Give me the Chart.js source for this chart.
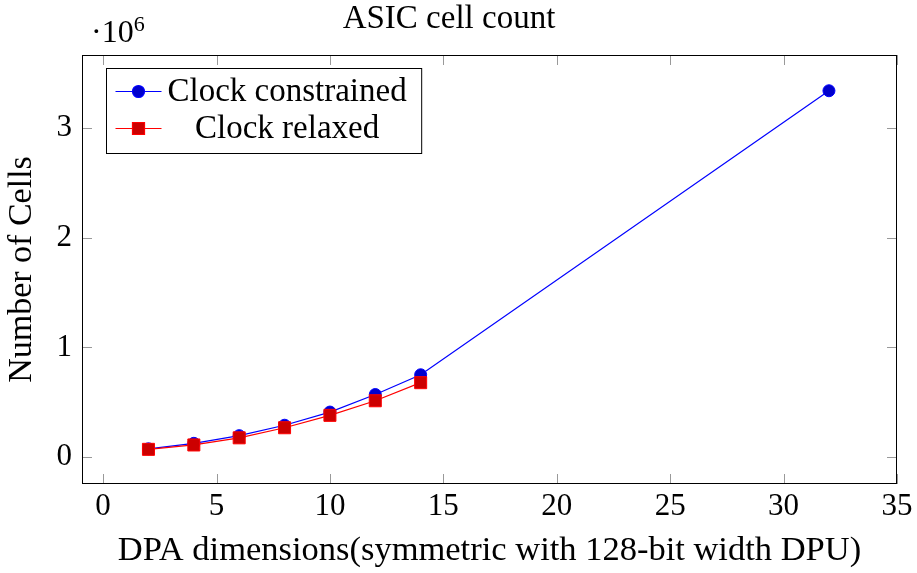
<!DOCTYPE html>
<html>
<head>
<meta charset="utf-8">
<script src="https://cdn.jsdelivr.net/npm/chart.js@4.4.0/dist/chart.umd.min.js"></script>
<style>
  html, body { margin: 0; padding: 0; background: #fff; }
  #wrap { width: 917px; height: 573px; }
</style>
</head>
<body>
<div id="wrap"><canvas id="cellChart"></canvas></div>
<script>
// values
const constrainedDims = [2, 4, 6, 8, 10, 12, 14, 32];
const constrainedCells = [75000, 125000, 195000, 290000, 410000, 570000, 750000, 3340000];
const relaxedDims = [2, 4, 6, 8, 10, 12, 14];
const relaxedCells = [70000, 110000, 175000, 267000, 380000, 513000, 678000];
const xTickValues = [0, 5, 10, 15, 20, 25, 30, 35];
const yTickValues = [0, 1000000, 2000000, 3000000];

const SERIF = "'Liberation Serif', 'DejaVu Serif', serif";
Chart.defaults.color = '#000';
Chart.defaults.font.family = SERIF;

// grey inner tick marks on all four sides + black frame
const framePlugin = {
  id: 'frame',
  beforeDatasetsDraw(chart) {
    const { ctx, chartArea: a, scales: { x, y } } = chart;
    ctx.save();
    ctx.strokeStyle = '#999';
    ctx.lineWidth = 1;
    ctx.beginPath();
    x.ticks.forEach(t => {
      const px = Math.round(x.getPixelForValue(t.value)) + 0.5;
      ctx.moveTo(px, a.bottom); ctx.lineTo(px, a.bottom - 10);
      ctx.moveTo(px, a.top); ctx.lineTo(px, a.top + 10);
    });
    y.ticks.forEach(t => {
      const py = Math.round(y.getPixelForValue(t.value)) + 0.5;
      ctx.moveTo(a.left, py); ctx.lineTo(a.left + 10, py);
      ctx.moveTo(a.right, py); ctx.lineTo(a.right - 10, py);
    });
    ctx.stroke();
    ctx.restore();
  },
  afterDraw(chart) {
    const { ctx, chartArea: a } = chart;
    ctx.save();
    ctx.strokeStyle = '#000';
    ctx.lineWidth = 1;
    ctx.strokeRect(Math.round(a.left) + 0.5, Math.round(a.top) + 0.5,
      Math.round(a.right - a.left) - 1, Math.round(a.bottom - a.top) - 1);

    // ·10^6 scale marker
    ctx.fillStyle = '#000';
    ctx.textBaseline = 'alphabetic';
    ctx.font = '32px ' + SERIF;
    ctx.fillText('\u00b710', a.left + 9, 42);
    const w = ctx.measureText('\u00b710').width;
    ctx.font = '22px ' + SERIF;
    ctx.fillText('6', a.left + 9 + w, 31);

    // legend box inside plot, top-left
    const sets = chart.data.datasets;
    ctx.font = '33px ' + SERIF;
    const maxW = Math.max(...sets.map(d => ctx.measureText(d.label).width));
    const bx = Math.round(a.left + 24) + 0.5, by = Math.round(a.top + 13) + 0.5;
    const textLeft = bx + 61;
    const bw = 61 + maxW + 15, bh = 85;
    ctx.fillStyle = '#fff';
    ctx.fillRect(bx, by, bw, bh);
    ctx.strokeStyle = '#000';
    ctx.strokeRect(bx, by, bw, bh);
    sets.forEach((d, i) => {
      const ry = by + 23 + i * 37;
      ctx.strokeStyle = d.borderColor;
      ctx.lineWidth = d.borderWidth;
      ctx.beginPath();
      ctx.moveTo(bx + 9, ry); ctx.lineTo(bx + 55, ry);
      ctx.stroke();
      ctx.fillStyle = d.pointBackgroundColor;
      ctx.strokeStyle = d.pointBorderColor;
      Chart.helpers.drawPoint(ctx, {
        pointStyle: d.pointStyle, radius: d.pointRadius, rotation: 0, borderWidth: 1
      }, bx + 32, ry);
      ctx.fillStyle = '#000';
      ctx.textAlign = 'center';
      ctx.textBaseline = 'middle';
      ctx.fillText(d.label, textLeft + maxW / 2, ry + 1);
    });
    ctx.restore();
  }
};

new Chart(document.getElementById('cellChart'), {
  type: 'line',
  data: {
    datasets: [
      {
        label: 'Clock constrained',
        data: constrainedDims.map((x, i) => ({ x, y: constrainedCells[i] })),
        borderColor: '#0000ff',
        borderWidth: 1.2,
        pointStyle: 'circle',
        pointRadius: 6,
        pointBackgroundColor: '#0000cc',
        pointBorderColor: '#0000ff',
        pointBorderWidth: 1,
        order: 1
      },
      {
        label: 'Clock relaxed',
        data: relaxedDims.map((x, i) => ({ x, y: relaxedCells[i] })),
        borderColor: '#ff0000',
        borderWidth: 1.2,
        pointStyle: 'rect',
        pointRadius: 8.5,
        pointBackgroundColor: '#cc0000',
        pointBorderColor: '#ff0000',
        pointBorderWidth: 1,
        order: 0
      }
    ]
  },
  options: {
    responsive: true,
    maintainAspectRatio: false,
    animation: false,
    layout: { padding: { top: 0, right: 19, bottom: 0, left: 0 } },
    plugins: {
      legend: { display: false },
      tooltip: { enabled: false },
      title: {
        display: true,
        text: 'ASIC cell count',
        font: { size: 33, weight: 'normal' },
        padding: { top: 0, bottom: 15.4 }
      }
    },
    scales: {
      x: {
        type: 'linear',
        min: -0.93,
        max: 35,
        afterBuildTicks: s => { s.ticks = xTickValues.map(v => ({ value: v })); },
        afterFit: s => { s.height = 89; },
        grid: { display: false, drawTicks: false },
        border: { display: false },
        ticks: { font: { size: 31 }, padding: 4.5, maxRotation: 0 },
        title: {
          display: true,
          text: 'DPA dimensions(symmetric with 128-bit width DPU)',
          font: { size: 34.5 },
          padding: { top: 0, bottom: 1 }
        }
      },
      y: {
        type: 'linear',
        min: -246000,
        max: 3666000,
        afterBuildTicks: s => { s.ticks = yTickValues.map(v => ({ value: v })); },
        afterFit: s => { s.width = 82; },
        grid: { display: false, drawTicks: false },
        border: { display: false },
        ticks: { font: { size: 31 }, padding: 10, callback: v => String(v / 1000000) },
        title: {
          display: true,
          text: 'Number of Cells',
          font: { size: 34 },
          padding: { top: 2, bottom: 0 }
        }
      }
    }
  },
  plugins: [framePlugin]
});
</script>
</body>
</html>
